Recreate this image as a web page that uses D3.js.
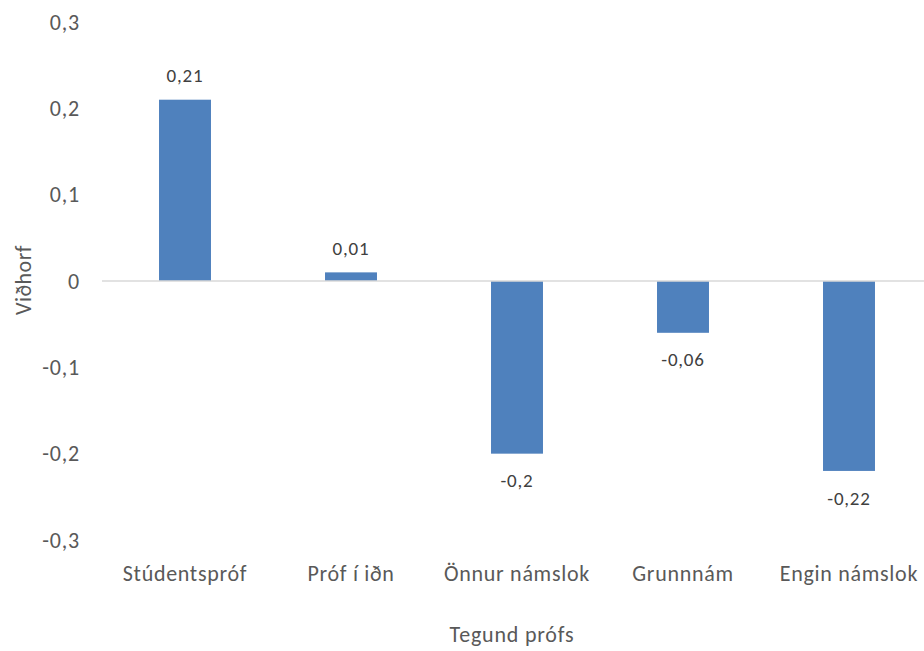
<!DOCTYPE html>
<html>
<head>
<meta charset="utf-8">
<script src="https://cdn.jsdelivr.net/npm/d3@7"></script>
<style>
  body { margin: 0; background: #fff; }
  svg text { font-family: Carlito, Lato, "Open Sans", sans-serif; }
</style>
</head>
<body>
<svg id="chart"></svg>
<script>
// ---------- data ----------
const categories = ['Stúdentspróf', 'Próf í iðn', 'Önnur námslok', 'Grunnnám', 'Engin námslok'];
const values = [0.21, 0.01, -0.2, -0.06, -0.22];
const yTicks = [-0.3, -0.2, -0.1, 0, 0.1, 0.2, 0.3];

const width = 924,
      height = 651;

const svg = d3.select('svg#chart')
    .attr('width', width)
    .attr('height', height);

const fmt = d => String(d).replace('.', ',');

//----------scales----------
const x = d3.scaleBand()
    .domain(categories)
    .range([102, 932])
    .paddingInner(0.687)
    .paddingOuter(0.3435);

const y = d3.scaleLinear()
    .domain([-0.3, 0.3])
    .range([540, 22]);

//----------y tick labels (no axis line)----------
const yAxis = d3.axisLeft(y)
    .tickValues(yTicks)
    .tickSize(0)
    .tickPadding(0)
    .tickFormat(fmt);

svg.append('g')
    .attr('transform', 'translate(80,0)')
    .call(yAxis)
    .call(g => g.select('.domain').remove())
    .selectAll('text')
      .style('font-size', '22px')
      .style('letter-spacing', '0.8px')
      .style('fill', '#595959')
      .attr('text-anchor', 'end');

//----------bars----------
svg.selectAll('rect.bar')
  .data(values)
  .enter()
  .append('rect')
    .classed('bar', true)
    .attr('x', (d, i) => x(categories[i]))
    .attr('width', x.bandwidth())
    .attr('y', d => y(Math.max(0, d)))
    .attr('height', d => Math.abs(y(d) - y(0)))
    .attr('fill', '#4f81bd');

//----------zero line----------
svg.append('line')
    .attr('x1', 102)
    .attr('x2', width)
    .attr('y1', y(0))
    .attr('y2', y(0))
    .attr('stroke', '#d9d9d9')
    .attr('stroke-width', 1.5);

//----------data labels----------
svg.selectAll('text.val')
  .data(values)
  .enter()
  .append('text')
    .classed('val', true)
    .attr('x', (d, i) => x(categories[i]) + x.bandwidth() / 2)
    .attr('y', d => d >= 0 ? y(d) - 24 : y(d) + 27)
    .attr('dy', '0.35em')
    .attr('text-anchor', 'middle')
    .style('font-size', '19px')
    .style('letter-spacing', '0.8px')
    .style('fill', '#404040')
    .text(fmt);

//----------category labels----------
svg.selectAll('text.cat')
  .data(categories)
  .enter()
  .append('text')
    .classed('cat', true)
    .attr('x', d => x(d) + x.bandwidth() / 2)
    .attr('y', 581)
    .attr('text-anchor', 'middle')
    .style('font-size', '22px')
    .style('letter-spacing', '0.7px')
    .style('fill', '#595959')
    .text(d => d);

//----------axis titles----------
svg.append('text')
    .attr('x', 512)
    .attr('y', 642)
    .attr('text-anchor', 'middle')
    .style('font-size', '22px')
    .style('letter-spacing', '0.8px')
    .style('fill', '#595959')
    .text('Tegund prófs');

svg.append('text')
    .attr('transform', 'rotate(-90)')
    .attr('x', -280)
    .attr('y', 31)
    .attr('text-anchor', 'middle')
    .style('font-size', '22px')
    .style('letter-spacing', '0.5px')
    .style('fill', '#595959')
    .text('Viðhorf');
</script>
</body>
</html>
